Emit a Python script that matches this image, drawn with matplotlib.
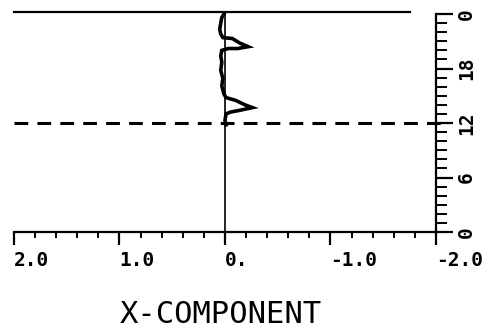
import matplotlib
matplotlib.use("Agg")
import matplotlib.pyplot as plt
import numpy as np

# x-component profile, hour of day vs value
hours = [24.0, 23.6, 23.0, 22.3, 21.8, 21.4, 21.3, 20.8, 20.4, 20.2, 20.2, 20.0,
         19.4, 18.7, 17.8, 16.9, 16.1, 15.2, 14.8, 14.5, 14.0, 13.7, 13.4, 13.2,
         13.0, 12.3, 11.8]
x_comp = [0.01, 0.03, 0.04, 0.05, 0.04, 0.02, -0.07, -0.14, -0.22, -0.12, -0.03, 0.03,
          0.04, 0.03, 0.04, 0.02, 0.03, 0.01, -0.01, -0.10, -0.19, -0.26, -0.14, -0.05,
          -0.01, 0.0, -0.01]

x_ticks = [2.0, 1.0, 0.0, -1.0, -2.0]
x_ticklabels = ["2.0", "1.0", "0.", "-1.0", "-2.0"]
y_ticks = [0, 6, 12, 18, 24]
y_ticklabels = ["0", "6", "12", "18", "0"]
marker_hour = 12

fig = plt.figure(figsize=(4.87, 3.33), dpi=100)
ax = fig.add_axes([0.0287, 0.303, 0.8665, 0.655])
ax.set_xlim(2.0, -2.0)
ax.set_ylim(0, 24)

for s in ["left", "top"]:
    ax.spines[s].set_visible(False)
ax.spines["right"].set_linewidth(1.6)
ax.spines["bottom"].set_linewidth(1.6)

ax.yaxis.tick_right()
ax.set_yticks(y_ticks)
ax.set_yticks(np.arange(0, 25, 1), minor=True)
ax.set_yticklabels([])
ax.tick_params(axis="y", which="major", direction="out", length=12, width=1.6)
ax.tick_params(axis="y", which="minor", direction="out", length=8, width=1.4)

ax.set_xticks(x_ticks)
ax.set_xticks(np.arange(-2.0, 2.01, 0.2), minor=True)
ax.set_xticklabels([])
ax.tick_params(axis="x", which="major", direction="out", length=9, width=1.6)
ax.tick_params(axis="x", which="minor", direction="out", length=4, width=1.4)

tick_font = dict(family="DejaVu Sans Mono", fontweight="bold", fontsize=14)
for v, lab in zip(x_ticks, x_ticklabels):
    ax.text(v, -2.1, lab, ha="left", va="top", clip_on=False, **tick_font)
for v, lab in zip(y_ticks, y_ticklabels):
    ax.text(-2.29, v, lab, ha="center", va="center", rotation=90,
            clip_on=False, **tick_font)

# frame pieces
ax.plot([2.0, -1.75], [24.2, 24.2], color="black", lw=1.6, clip_on=False)
ax.plot([0, 0], [-0.8, 24.2], color="black", lw=1.2, clip_on=False)

ax.axhline(marker_hour, xmin=0, xmax=1.02, color="black", lw=2.2,
           dashes=(4.5, 3), clip_on=False)

ax.plot(x_comp, hours, color="black", lw=2.6, solid_joinstyle="miter", clip_on=False)

fig.text(0.454, 0.055, "X-COMPONENT", ha="center", va="center",
         family="DejaVu Sans Mono", fontsize=22)

fig.savefig("out.png", dpi=100)
